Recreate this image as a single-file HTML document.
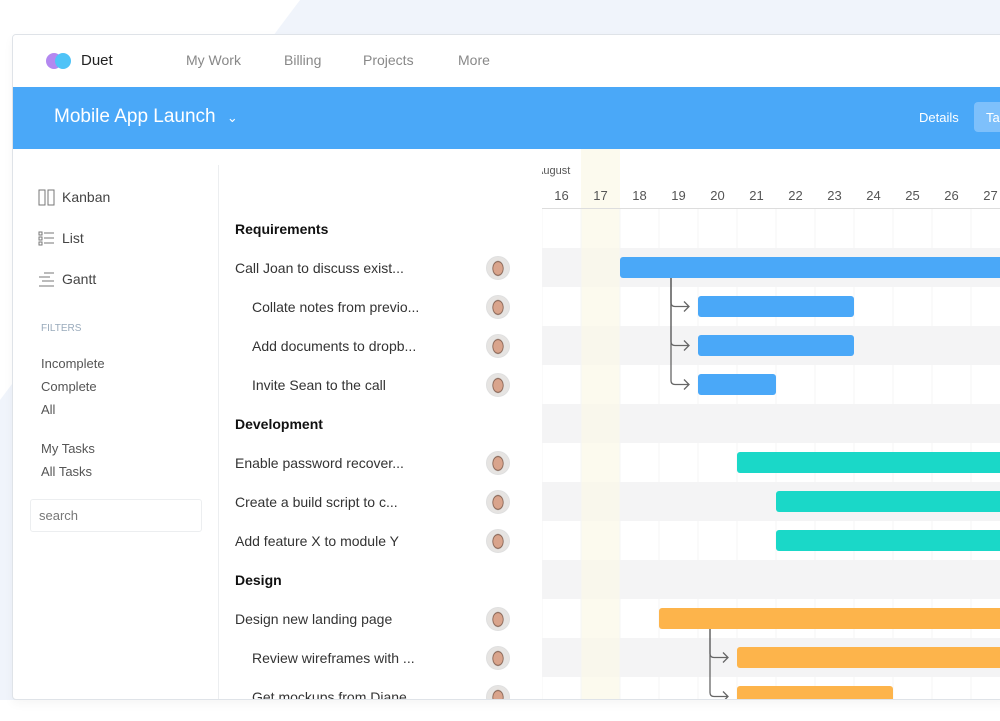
<!DOCTYPE html>
<html><head><meta charset="utf-8">
<style>
*{box-sizing:border-box;margin:0;padding:0}
body{width:1000px;height:721px;overflow:hidden;background:#fff;font-family:"Liberation Sans",sans-serif;position:relative}
.abs{position:absolute}
.t{position:absolute;white-space:nowrap}
</style></head><body>
<div class="abs" style="left:0;top:0;width:1000px;height:721px;background:#fff">
<svg width="1000" height="721" style="position:absolute;left:0;top:0"><polygon points="300,0 1000,0 1000,700 0,700 0,400" fill="#f0f4fb"/><polygon points="0,0 300,0 0,380" fill="#fff"/></svg>
</div>
<div class="abs" style="left:12px;top:34px;width:1000px;height:666px;background:#fff;border:1px solid #dfe3e8;border-radius:4px;overflow:hidden;box-shadow:0 4px 10px rgba(0,0,0,0.04)">
  <div class="abs" style="left:0;top:0;width:1000px;height:52px;background:#fff">
    <div class="abs" style="left:33px;top:18px;width:16px;height:16px;border-radius:50%;background:#b388f0"></div>
    <div class="abs" style="left:42px;top:18px;width:16px;height:16px;border-radius:50%;background:#4fc3f7"></div>
    <div class="t" style="left:68px;top:17px;font-size:15px;color:#222">Duet</div>
    <div class="t" style="left:173px;top:17px;font-size:14px;color:#888">My Work</div>
    <div class="t" style="left:271px;top:17px;font-size:14px;color:#888">Billing</div>
    <div class="t" style="left:350px;top:17px;font-size:14px;color:#888">Projects</div>
    <div class="t" style="left:445px;top:17px;font-size:14px;color:#888">More</div>
  </div>
  <div class="abs" style="left:0;top:52px;width:1000px;height:62px;background:#4aa8f8">
    <div class="t" style="left:41px;top:19px;font-size:19px;color:#fff">Mobile App Launch <span style="font-size:13px;margin-left:6px">&#8964;</span></div>
    <div class="t" style="left:906px;top:23px;font-size:13px;color:#fff">Details</div>
    <div class="abs" style="left:961px;top:15px;width:60px;height:30px;background:#7ec0fb;border-radius:4px;color:#fff;font-size:13px;padding:8px 0 0 12px">Tasks</div>
  </div>
  <div class="abs" style="left:205px;top:130px;width:1px;height:540px;background:#eceef0"></div>
  <div class="abs" style="left:0;top:114px;width:205px;height:560px">
    <svg class="abs" style="left:25px;top:40px" width="17" height="17"><rect x="1" y="1" width="6" height="15" fill="none" stroke="#777"/><rect x="10" y="1" width="6" height="15" fill="none" stroke="#777"/></svg>
    <div class="t" style="left:49px;top:40px;font-size:14px;color:#444">Kanban</div>
    <svg class="abs" style="left:25px;top:81px" width="17" height="17"><g stroke="#777" fill="none"><rect x="1" y="2" width="3" height="3"/><rect x="1" y="7" width="3" height="3"/><rect x="1" y="12" width="3" height="3"/><line x1="6" y1="3" x2="16" y2="3"/><line x1="6" y1="8" x2="16" y2="8"/><line x1="6" y1="13" x2="16" y2="13"/></g></svg>
    <div class="t" style="left:49px;top:81px;font-size:14px;color:#444">List</div>
    <svg class="abs" style="left:25px;top:122px" width="17" height="17"><g stroke="#777"><line x1="6" y1="2" x2="16" y2="2"/><line x1="1" y1="6" x2="12" y2="6"/><line x1="4" y1="10" x2="16" y2="10"/><line x1="1" y1="15" x2="16" y2="15"/></g></svg>
    <div class="t" style="left:49px;top:122px;font-size:14px;color:#444">Gantt</div>
    <div class="t" style="left:28px;top:174px;font-size:10px;color:#9ab">FILTERS</div>
    <div class="t" style="left:28px;top:207px;font-size:13px;color:#555">Incomplete</div>
    <div class="t" style="left:28px;top:230px;font-size:13px;color:#555">Complete</div>
    <div class="t" style="left:28px;top:253px;font-size:13px;color:#555">All</div>
    <div class="t" style="left:28px;top:292px;font-size:13px;color:#555">My Tasks</div>
    <div class="t" style="left:28px;top:315px;font-size:13px;color:#555">All Tasks</div>
    <div class="abs" style="left:17px;top:350px;width:172px;height:33px;border:1px solid #eceef0;border-radius:3px;font-size:13px;color:#777;padding:8px 0 0 8px">search</div>
  </div>
  <div class="abs" id="tasklist" style="left:206px;top:114px;width:324px;height:560px"></div>
  <svg class="abs" id="gantt" style="left:529px;top:114px" width="480" height="560"></svg>
</div>
<script>
const days=[16,17,18,19,20,21,22,23,24,25,26,27,28];
const rowNames=["Requirements","Call Joan to discuss exist...","Collate notes from previo...","Add documents to dropb...","Invite Sean to the call","Development","Enable password recover...","Create a build script to c...","Add feature X to module Y","Design","Design new landing page","Review wireframes with ...","Get mockups from Diane..."];
const rowKind=["h","t","s","s","s","h","t","t","t","h","t","s","s"];
const barStart=[null,18,20,20,20,null,21,22,22,null,19,21,21];
const barEnd=[null,32,24,24,22,null,32,32,32,null,32,32,25];
const barColor=[null,"#4aa8f8","#4aa8f8","#4aa8f8","#4aa8f8",null,"#1ad8c8","#1ad8c8","#1ad8c8",null,"#fdb44b","#fdb44b","#fdb44b"];
const barParent=[null,null,1,1,1,null,null,null,null,null,null,10,10];
const today=17;
const dayW=39, day0=16, rowH=39, row0=60;
const x=d=>(d-day0)*dayW;
const y=r=>row0+r*rowH;
const NS="http://www.w3.org/2000/svg";
const g=document.getElementById('gantt');
function mk(tag,attrs){const e=document.createElementNS(NS,tag);for(const k in attrs)e.setAttribute(k,attrs[k]);g.appendChild(e);return e;}
rowNames.forEach((n,r)=>{ if(r%2===1){const e=mk('rect',{x:0,y:y(r),width:480,height:rowH,fill:'#f4f4f5'});

}});
const tc=mk('rect',{x:x(today),y:0,width:dayW,height:560,fill:'#fbf8e8',opacity:0.75});


days.forEach(d=>{
 const l=mk('line',{x1:x(d),y1:60,x2:x(d),y2:560,stroke:'#f5f5f5'});
 
 
 const t=mk('text',{x:x(d)+dayW/2,y:51,'text-anchor':'middle','font-size':13,fill:'#555','font-family':'Liberation Sans, sans-serif'});
 t.textContent=d;
 
 
});
const ml=mk('text',{x:-6,y:25,'font-size':11,fill:'#555','font-family':'Liberation Sans, sans-serif'});ml.textContent='August';


const hl=mk('line',{x1:0,y1:59.5,x2:480,y2:59.5,stroke:'#ddd'});


rowNames.forEach((n,r)=>{
 if(barStart[r]===null)return;
 const b=mk('rect',{x:x(barStart[r]),y:y(r)+9,width:x(barEnd[r])-x(barStart[r]),height:21,rx:3,fill:barColor[r]});
 
 
 const p=barParent[r];
 if(p!==null){
  const cx=x(barStart[r])-27, cy=y(r)+19.5;
  const c=mk('path',{d:`M${cx},${y(p)+30} L${cx},${cy-4} Q${cx},${cy} ${cx+4},${cy} L${cx+18},${cy} M${cx+13},${cy-5} L${cx+18},${cy} L${cx+13},${cy+5}`,fill:'none',stroke:'#666','stroke-width':1.3});
  
  
 }
});
const tl=document.getElementById('tasklist');
rowNames.forEach((n,r)=>{
 const d=document.createElement('div');
 d.className='t';
 const top=y(r)+12;
 if(rowKind[r]==='h'){d.style.cssText=`left:16px;top:${top}px;font-size:14px;font-weight:bold;color:#111`;}
 else{d.style.cssText=`left:${rowKind[r]==='s'?33:16}px;top:${top}px;font-size:14px;color:#333`;
  const a=document.createElement('div');a.className='abs';
  a.style.cssText=`left:267px;top:${y(r)+8}px;width:24px;height:24px;border-radius:50%;background:radial-gradient(ellipse 6px 8px at 50% 52%,#d9a48c 0,#d9a48c 75%,#7a5646 85%,rgba(0,0,0,0) 100%),#e6e4e2;border:1px solid #e0e0e0`;
  
  
  tl.appendChild(a);}
 d.textContent=n;
 tl.appendChild(d);
});
</script>
</body></html>
